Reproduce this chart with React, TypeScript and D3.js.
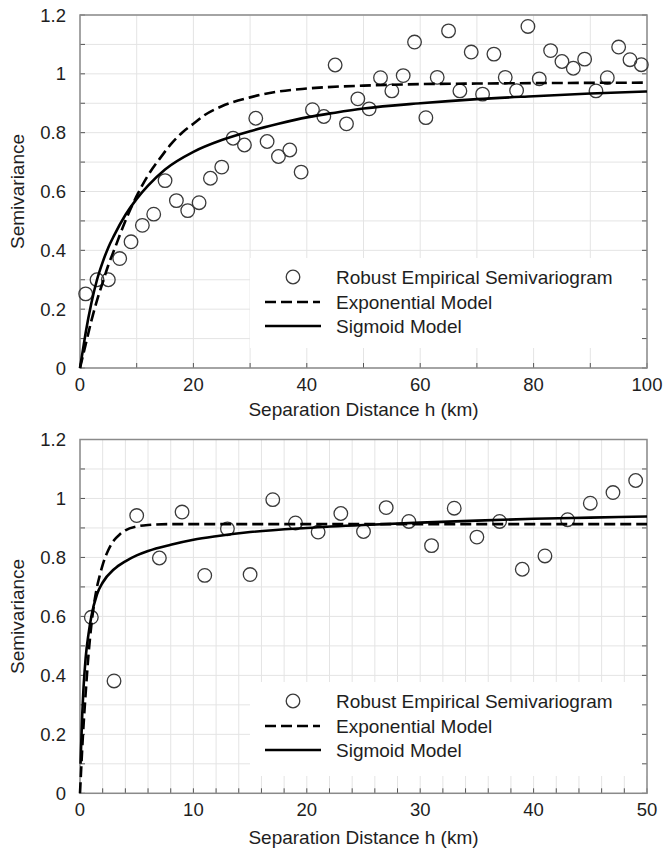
import React from "react";
import * as d3 from "d3";

// Lag distances (km) and robust empirical semivariances, 0–100 km panel
const wideLag = [1, 3, 5, 7, 9, 11, 13, 15, 17, 19, 21, 23, 25, 27, 29, 31, 33, 35, 37, 39, 41, 43, 45, 47, 49, 51, 53, 55, 57, 59, 61, 63, 65, 67, 69, 71, 73, 75, 77, 79, 81, 83, 85, 87, 89, 91, 93, 95, 97, 99];
const wideGamma = [0.252, 0.3, 0.3, 0.372, 0.429, 0.485, 0.523, 0.637, 0.569, 0.535, 0.562, 0.645, 0.683, 0.781, 0.758, 0.849, 0.77, 0.719, 0.741, 0.666, 0.878, 0.855, 1.03, 0.83, 0.915, 0.881, 0.987, 0.942, 0.994, 1.108, 0.851, 0.988, 1.146, 0.942, 1.074, 0.931, 1.067, 0.988, 0.943, 1.161, 0.983, 1.079, 1.042, 1.019, 1.05, 0.942, 0.987, 1.091, 1.048, 1.031];

// Fitted models, 0–100 km panel
const wideExpLag = [0, 1, 2, 3, 4, 5, 6, 8, 10, 12, 14, 16, 18, 20, 22, 25, 30, 35, 40, 50, 60, 70, 100];
const wideExpGamma = [0, 0.08, 0.16, 0.23, 0.29, 0.35, 0.4, 0.5, 0.585, 0.655, 0.71, 0.76, 0.8, 0.83, 0.86, 0.89, 0.92, 0.94, 0.95, 0.96, 0.965, 0.967, 0.97];
const wideSigLag = [0, 0.5, 1, 2, 3, 4, 5, 6, 8, 10, 12, 15, 20, 25, 30, 35, 40, 45, 50, 60, 70, 80, 90, 100];
const wideSigGamma = [0, 0.06, 0.12, 0.22, 0.3, 0.36, 0.41, 0.45, 0.52, 0.575, 0.62, 0.675, 0.735, 0.775, 0.805, 0.83, 0.852, 0.868, 0.882, 0.9, 0.914, 0.924, 0.933, 0.94];

// Lag distances (km) and robust empirical semivariances, 0–50 km panel
const shortLag = [1, 3, 5, 7, 9, 11, 13, 15, 17, 19, 21, 23, 25, 27, 29, 31, 33, 35, 37, 39, 41, 43, 45, 47, 49];
const shortGamma = [0.597, 0.381, 0.942, 0.798, 0.954, 0.739, 0.897, 0.742, 0.996, 0.917, 0.886, 0.949, 0.888, 0.969, 0.922, 0.84, 0.967, 0.869, 0.922, 0.76, 0.805, 0.928, 0.984, 1.02, 1.061];

// Fitted models, 0–50 km panel
const shortExpLag = [0, 0.25, 0.5, 0.75, 1, 1.25, 1.5, 1.75, 2, 2.5, 3, 3.5, 4, 5, 6, 8, 50];
const shortExpGamma = [0, 0.19, 0.34, 0.47, 0.57, 0.645, 0.7, 0.74, 0.775, 0.825, 0.858, 0.878, 0.892, 0.905, 0.91, 0.913, 0.913];
const shortSigLag = [0.05, 0.1, 0.2, 0.3, 0.4, 0.5, 0.75, 1, 1.5, 2, 3, 4, 5, 6, 8, 10, 12, 15, 20, 25, 30, 35, 40, 45, 50];
const shortSigGamma = [0.1, 0.16, 0.27, 0.35, 0.41, 0.46, 0.54, 0.6, 0.675, 0.715, 0.76, 0.787, 0.807, 0.822, 0.843, 0.86, 0.872, 0.886, 0.9, 0.91, 0.918, 0.925, 0.931, 0.935, 0.939];

const yTickLabels = ["0", "0.2", "0.4", "0.6", "0.8", "1", "1.2"];
const legendLabels = ["Robust Empirical Semivariogram", "Exponential Model", "Sigmoid Model"];
const xTitle = "Separation Distance h (km)";
const yTitle = "Semivariance";

const FONT = "'Liberation Sans', Arial, Helvetica, sans-serif";
const TEXT = "#1e1e1e";
const GRID = "#e4e4e4";
const FRAME = "#8a8a8a";
const TICK = "#555";

type PanelProps = {
  top: number;
  bottom: number;
  xMax: number;
  gridStep: number;
  labelStep: number;
  lag: number[];
  gamma: number[];
  expLag: number[];
  expGamma: number[];
  sigLag: number[];
  sigGamma: number[];
  legendTop: number;
  legendBottom: number;
  titleY: number;
};

function Panel(p: PanelProps) {
  const left = 80;
  const right = 647;
  const x = d3.scaleLinear().domain([0, p.xMax]).range([left, right]);
  const y = d3.scaleLinear().domain([0, 1.2]).range([p.bottom, p.top]);

  const xGrid = d3.range(0, p.xMax + 1e-9, p.gridStep);
  const xLabels = d3.range(0, p.xMax + 1e-9, p.labelStep);
  const yGrid = d3.range(0, 1.2 + 1e-9, 0.1);
  const yLabels = d3.range(0, 1.2 + 1e-9, 0.2);

  const line = d3
    .line<[number, number]>()
    .x((d) => x(d[0]))
    .y((d) => y(d[1]))
    .curve(d3.curveMonotoneX);

  const expPath = line(p.expLag.map((h, i) => [h, p.expGamma[i]]) as [number, number][]) || "";
  const sigPath = line(p.sigLag.map((h, i) => [h, p.sigGamma[i]]) as [number, number][]) || "";

  const legX = 250;
  const rowY = [p.legendTop + 19, p.legendTop + 44, p.legendTop + 68];

  return (
    <g>
      {/* grid */}
      {xGrid.map((v) => (
        <line key={"gx" + v} x1={x(v)} x2={x(v)} y1={p.top} y2={p.bottom} stroke={GRID} strokeWidth={1} />
      ))}
      {yGrid.map((v) => (
        <line key={"gy" + v} x1={left} x2={right} y1={y(v)} y2={y(v)} stroke={GRID} strokeWidth={1} />
      ))}

      {/* legend background */}
      <rect x={legX} y={p.legendTop} width={right - legX} height={p.legendBottom - p.legendTop} fill="#fff" />

      {/* tick marks */}
      {xGrid.map((v) => (
        <line key={"tx" + v} x1={x(v)} x2={x(v)} y1={p.bottom} y2={p.bottom - 5} stroke={TICK} strokeWidth={1} />
      ))}
      {yGrid.map((v) => (
        <g key={"ty" + v}>
          <line x1={left} x2={left + 5} y1={y(v)} y2={y(v)} stroke={TICK} strokeWidth={1} />
          <line x1={right} x2={right - 5} y1={y(v)} y2={y(v)} stroke={TICK} strokeWidth={1} />
        </g>
      ))}

      {/* frame */}
      <rect x={left} y={p.top} width={right - left} height={p.bottom - p.top} fill="none" stroke={FRAME} strokeWidth={1.5} />

      {/* empirical points */}
      {p.lag.map((h, i) => (
        <circle key={"pt" + i} cx={x(h)} cy={y(p.gamma[i])} r={6.8} fill="none" stroke="#3a3a3a" strokeWidth={1.3} />
      ))}

      {/* model curves */}
      <path d={expPath} fill="none" stroke="#000" strokeWidth={2.6} strokeDasharray="11,5" />
      <path d={sigPath} fill="none" stroke="#000" strokeWidth={2.6} />

      {/* axis labels */}
      {xLabels.map((v) => (
        <text key={"lx" + v} x={x(v)} y={p.bottom + 23} textAnchor="middle" fontSize={18.5} fontFamily={FONT} fill={TEXT}>
          {d3.format("~g")(v)}
        </text>
      ))}
      {yLabels.map((v, i) => (
        <text key={"ly" + v} x={66} y={y(v) + 6.5} textAnchor="end" fontSize={18.5} fontFamily={FONT} fill={TEXT}>
          {yTickLabels[i]}
        </text>
      ))}
      <text x={(left + right) / 2} y={p.titleY} textAnchor="middle" fontSize={19} fontFamily={FONT} fill={TEXT}>
        {xTitle}
      </text>
      <text
        transform={`translate(24,${(p.top + p.bottom) / 2}) rotate(-90)`}
        textAnchor="middle"
        fontSize={19}
        fontFamily={FONT}
        fill={TEXT}
      >
        {yTitle}
      </text>

      {/* legend */}
      <circle cx={293} cy={rowY[0]} r={6.8} fill="none" stroke="#3a3a3a" strokeWidth={1.3} />
      <line x1={265} x2={320} y1={rowY[1]} y2={rowY[1]} stroke="#000" strokeWidth={2.6} strokeDasharray="11,5" />
      <line x1={265} x2={321} y1={rowY[2]} y2={rowY[2]} stroke="#000" strokeWidth={2.6} />
      {legendLabels.map((t, i) => (
        <text key={t} x={336} y={rowY[i] + 7} fontSize={19} fontFamily={FONT} fill={TEXT}>
          {t}
        </text>
      ))}
    </g>
  );
}

export default function App() {
  return (
    <svg
      width={665}
      height={849}
      style={{ position: "absolute", left: 0, top: 0, display: "block", background: "#fff" }}
    >
      <rect width={665} height={849} fill="#fff" />
      <Panel
        top={15}
        bottom={368}
        xMax={100}
        gridStep={10}
        labelStep={20}
        lag={wideLag}
        gamma={wideGamma}
        expLag={wideExpLag}
        expGamma={wideExpGamma}
        sigLag={wideSigLag}
        sigGamma={wideSigGamma}
        legendTop={258}
        legendBottom={348}
        titleY={416}
      />
      <Panel
        top={439.5}
        bottom={793.3}
        xMax={50}
        gridStep={2}
        labelStep={10}
        lag={shortLag}
        gamma={shortGamma}
        expLag={shortExpLag}
        expGamma={shortExpGamma}
        sigLag={shortSigLag}
        sigGamma={shortSigGamma}
        legendTop={682}
        legendBottom={776}
        titleY={844}
      />
    </svg>
  );
}
